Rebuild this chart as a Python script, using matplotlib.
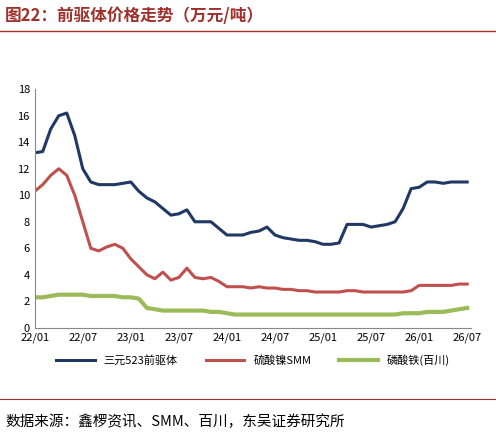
import numpy as np
import pandas as pd
import matplotlib.pyplot as plt

plt.rcParams['font.family'] = ['Noto Sans CJK SC', 'DejaVu Sans']

months = pd.date_range('2022-01-01', '2026-07-01', freq='MS')
ncm523 = [13.2, 13.3, 15.0, 16.0, 16.2, 14.5, 12.0, 11.0, 10.8, 10.8, 10.8, 10.9,
          11.0, 10.3, 9.8, 9.5, 9.0, 8.5, 8.6, 8.9, 8.0, 8.0, 8.0, 7.5,
          7.0, 7.0, 7.0, 7.2, 7.3, 7.6, 7.0, 6.8, 6.7, 6.6, 6.6, 6.5,
          6.3, 6.3, 6.4, 7.8, 7.8, 7.8, 7.6, 7.7, 7.8, 8.0, 9.0, 10.5,
          10.6, 11.0, 11.0, 10.9, 11.0, 11.0, 11.0]
nickel = [10.3, 10.8, 11.5, 12.0, 11.5, 10.0, 8.0, 6.0, 5.8, 6.1, 6.3, 6.0,
          5.2, 4.6, 4.0, 3.7, 4.2, 3.6, 3.8, 4.5, 3.8, 3.7, 3.8, 3.5,
          3.1, 3.1, 3.1, 3.0, 3.1, 3.0, 3.0, 2.9, 2.9, 2.8, 2.8, 2.7,
          2.7, 2.7, 2.7, 2.8, 2.8, 2.7, 2.7, 2.7, 2.7, 2.7, 2.7, 2.8,
          3.2, 3.2, 3.2, 3.2, 3.2, 3.3, 3.3]
ironp = [2.3, 2.3, 2.4, 2.5, 2.5, 2.5, 2.5, 2.4, 2.4, 2.4, 2.4, 2.3,
         2.3, 2.2, 1.5, 1.4, 1.3, 1.3, 1.3, 1.3, 1.3, 1.3, 1.2, 1.2,
         1.1, 1.0, 1.0, 1.0, 1.0, 1.0, 1.0, 1.0, 1.0, 1.0, 1.0, 1.0,
         1.0, 1.0, 1.0, 1.0, 1.0, 1.0, 1.0, 1.0, 1.0, 1.0, 1.1, 1.1,
         1.1, 1.2, 1.2, 1.2, 1.3, 1.4, 1.5]
labels = ['三元523前驱体', '硫酸镍SMM', '磷酸铁(百川)']
colors = ['#1F3864', '#C0504D', '#9BBB59']
tick_labels = ['22/01', '22/07', '23/01', '23/07', '24/01', '24/07', '25/01', '25/07', '26/01', '26/07']

fig = plt.figure(figsize=(4.96, 4.46), dpi=100)
fig.text(0.01, 0.965, '图22：前驱体价格走势（万元/吨）', fontsize=12, fontweight='bold',
         color='#A0302B', va='center')
fig.add_artist(plt.Line2D([0.0, 1.0], [0.93, 0.93], color='#A0302B', lw=1))
fig.add_artist(plt.Line2D([0.0, 1.0], [0.105, 0.105], color='#A0302B', lw=0.8))
fig.text(0.01, 0.055, '数据来源：鑫椤资讯、SMM、百川，东吴证券研究所', fontsize=10.5, va='center')

ax = fig.add_axes([0.07, 0.265, 0.88, 0.535])
x = np.arange(len(months))
for s, lab, c in zip([ncm523, nickel, ironp], labels, colors):
    ax.plot(x, s, color=c, lw=2.2 if c != '#9BBB59' else 3, label=lab)
ax.set_xlim(0, 54.5)
ax.set_ylim(0, 18)
ax.set_yticks(range(0, 19, 2))
ax.set_xticks(range(0, 55, 6))
ax.set_xticklabels(tick_labels)
ax.tick_params(labelsize=8, length=0)
for sp in ['top', 'right']:
    ax.spines[sp].set_visible(False)
ax.spines['left'].set_color('#888888')
ax.spines['bottom'].set_color('#888888')
ax.legend(loc='upper center', bbox_to_anchor=(0.5, -0.07), ncol=3, frameon=False,
          fontsize=8, handlelength=3.5, columnspacing=2.5)
fig.savefig('out.png')
